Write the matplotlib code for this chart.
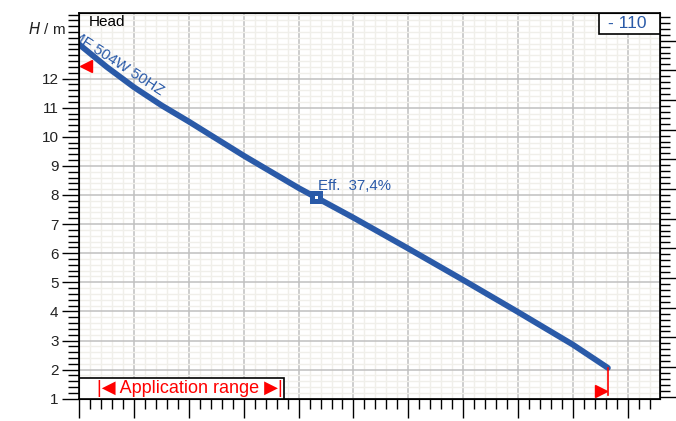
import matplotlib
matplotlib.use('Agg')
import matplotlib.pyplot as plt
from matplotlib.ticker import MultipleLocator, FixedLocator, NullFormatter

plt.rcParams['font.family'] = ['Liberation Sans', 'DejaVu Sans']

# pump curve (x in grid units, head in m)
flow = [0, 0.5, 1, 1.5, 2, 3, 4, 5, 6, 7, 8, 9, 9.64]
head = [13.17, 12.40, 11.70, 11.08, 10.52, 9.35, 8.24, 7.22, 6.16, 5.08,
        3.98, 2.86, 2.06]
eff_point = (4.32, 7.92)
eff_label = 'Eff.  37,4%'
pump_name = 'MF 504W 50HZ'
app_left = (0, 12.42)
app_right = (9.64, 1.28)
left_ticks = list(range(1, 13))
right_ticks = list(range(0, 13))

blue = '#2a5aa8'
red = '#ff0000'

fig = plt.figure(figsize=(6.76, 4.21), dpi=100)
ax = fig.add_axes([0.1173, 0.0515, 0.859, 0.9188])
ax.set_xlim(0, 10.59)
ax.set_ylim(0.98, 14.27)

# grid
ax.xaxis.set_major_locator(MultipleLocator(1))
ax.xaxis.set_minor_locator(MultipleLocator(0.2))
ax.yaxis.set_major_locator(FixedLocator(left_ticks))
ax.yaxis.set_minor_locator(MultipleLocator(0.2))
ax.grid(which='minor', color='#f0efea', lw=1.0)
ax.grid(which='major', color='#c0c0c0', lw=1.1)
ax.set_axisbelow(True)
ax.xaxis.set_major_formatter(NullFormatter())
ax.tick_params(axis='x', which='major', length=14, width=1, direction='out')
ax.tick_params(axis='x', which='minor', length=7, width=1, direction='out')
ax.tick_params(axis='y', which='major', length=12, width=1, direction='out',
               labelsize=11, labelcolor='#222222', pad=3)
ax.tick_params(axis='y', which='minor', length=8, width=1, direction='out')
for s in ax.spines.values():
    s.set_linewidth(1.2)

# right axis, its labels are cut by the picture edge as in the original
ax2 = ax.twinx()
ax2.set_ylim(-0.088, 12.95)
ax2.yaxis.set_major_locator(FixedLocator(right_ticks))
ax2.yaxis.set_minor_locator(MultipleLocator(0.2))
ax2.tick_params(axis='y', which='major', length=12, width=1, labelsize=11,
                labelcolor='#e0a060', pad=3)
ax2.tick_params(axis='y', which='minor', length=7, width=1)
ax2.grid(False)

# curve
ax.plot(flow, head, color=blue, lw=4.2, solid_capstyle='round',
        solid_joinstyle='round', zorder=5)
ax.plot(*eff_point, marker='s', ms=6.3, mfc='white', mec=blue, mew=3.6,
        zorder=6)
ax.text(eff_point[0] + 0.03, eff_point[1] + 0.15, eff_label, color=blue,
        fontsize=10.8, ha='left', va='bottom', zorder=6)
ax.text(-0.13, 13.55, pump_name, color=blue, fontsize=11, rotation=-33,
        rotation_mode='anchor', ha='left', va='center', zorder=6, clip_on=True)

# application range markers
ax.plot(app_left[0] + 0.12, app_left[1], marker='<', ms=8, color=red, mec=red,
        zorder=7, clip_on=False)
ax.plot([flow[-1], flow[-1]], [head[-1], 1.13], color=red, lw=1.2, zorder=7)
ax.plot(app_right[0] - 0.12, app_right[1], marker='>', ms=8, color=red, mec=red,
        zorder=7)

# labels
ax.text(0.017, 0.993, 'Head', transform=ax.transAxes, fontsize=11,
        ha='left', va='top', color='black')
fig.text(0.041, 0.931, r'$\it{H}$ / m', fontsize=11, ha='left', va='center',
         color='#222222')

# boxes
box1 = plt.Rectangle((0, 0.0), 0.353, 0.054, transform=ax.transAxes,
                     facecolor='white', edgecolor='black', lw=1.2, zorder=8)
ax.add_patch(box1)
ax.text(0.19, 0.028, '|◀ Application range ▶|', transform=ax.transAxes,
        color=red, fontsize=13, ha='center', va='center', zorder=9)
box2 = plt.Rectangle((0.8955, 0.944), 0.1045, 0.056, transform=ax.transAxes,
                     facecolor='white', edgecolor='black', lw=1.2, zorder=8)
ax.add_patch(box2)
ax.text(0.943, 0.972, '- 110', transform=ax.transAxes, color=blue,
        fontsize=12.5, ha='center', va='center', zorder=9)

fig.savefig('out.png', dpi=100)
